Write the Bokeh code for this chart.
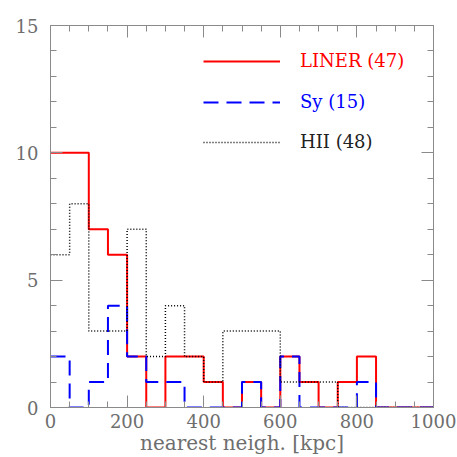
import math
from bokeh.plotting import figure
from bokeh.models import (Range1d, LinearAxis, FixedTicker, Label, Legend, LegendItem,
                          CustomLabelingPolicy)
from bokeh.embed import file_html
from bokeh.resources import INLINE

# ---- data ----
bin_edges = [0, 50, 100, 150, 200, 250, 300, 350, 400, 450, 500,
             550, 600, 650, 700, 750, 800, 850, 900, 950, 1000]
liner_counts = [10, 10, 7, 6, 2, 0, 2, 2, 1, 0, 1, 0, 2, 1, 0, 1, 2, 0, 0, 0]
sy_counts = [2, 0, 1, 4, 2, 1, 1, 0, 0, 0, 1, 0, 2, 0, 0, 0, 1, 0, 0, 0]
hii_counts = [6, 8, 3, 3, 7, 2, 4, 2, 1, 3, 3, 3, 1, 1, 1, 0, 0, 0, 0, 0]
series_labels = ["LINER (47)", "Sy (15)", "HII (48)"]
x_ticks = [0, 200, 400, 600, 800, 1000]
y_ticks = [0, 5, 10, 15]
x_title = "nearest neigh. [kpc]"
y_title = "N"

FONT = "DejaVu Serif"
GRAY = "#6e6e6e"
AXIS = "#8a8a8a"

p = figure(width=457, height=457, output_backend="svg", toolbar_location=None,
           x_range=Range1d(0, 1000), y_range=Range1d(0, 15),
           min_border_left=50, min_border_right=24, min_border_top=25,
           min_border_bottom=49)
p.grid.visible = False
p.outline_line_color = AXIS
p.background_fill_color = "white"

xt = FixedTicker(ticks=x_ticks, minor_ticks=bin_edges)
yt = FixedTicker(ticks=y_ticks, minor_ticks=list(range(0, 16)))

def style(ax, labels=True):
    ax.axis_line_color = AXIS
    ax.major_tick_line_color = AXIS
    ax.minor_tick_line_color = AXIS
    ax.major_tick_in = 12
    ax.major_tick_out = 0
    ax.minor_tick_in = 6
    ax.minor_tick_out = 0
    if labels:
        ax.major_label_text_font = FONT
        ax.major_label_text_font_size = "18px"
        ax.major_label_text_color = GRAY
    else:
        ax.major_label_text_font_size = "1px"
        ax.major_label_standoff = 0
        ax.major_label_policy = CustomLabelingPolicy(
            code="for (const i of Array.from(indices)) { indices.unset(i) }; return indices")

p.xaxis.ticker = xt
p.yaxis.ticker = yt
style(p.xaxis[0])
style(p.yaxis[0])
p.xaxis.major_label_standoff = 6
p.yaxis.major_label_standoff = 12
p.xaxis.axis_label = x_title
p.xaxis.axis_label_text_font = FONT
p.xaxis.axis_label_text_font_size = "20px"
p.xaxis.axis_label_text_font_style = "normal"
p.xaxis.axis_label_text_color = GRAY
p.xaxis.axis_label_standoff = 0

top = LinearAxis(ticker=FixedTicker(ticks=x_ticks, minor_ticks=bin_edges))
right = LinearAxis(ticker=FixedTicker(ticks=y_ticks, minor_ticks=list(range(0, 16))))
style(top, labels=False)
style(right, labels=False)
p.add_layout(top, "above")
p.add_layout(right, "right")

p.add_layout(Label(x=-108, y=7.5, text=y_title, angle=math.pi / 2,
                   text_align="center", text_baseline="middle",
                   text_font=FONT, text_font_size="18px", text_color=GRAY))

# ---- histograms ----
def step_xy(counts):
    return bin_edges, counts + [counts[-1]]

x, y = step_xy(liner_counts)
r1 = p.step(x, y, mode="after", line_color="#ff0000", line_width=2)
x, y = step_xy(sy_counts)
r2 = p.step(x, y, mode="after", line_color="#0000ff", line_width=2, line_dash="15 8")
x, y = step_xy(hii_counts)
r3 = p.step(x, y, mode="after", line_color="#000000", line_width=1.5, line_dash="1 2")

# ---- legend ----
for rend, lab, col, ypos in [(r1, series_labels[0], "#ff0000", 336),
                              (r2, series_labels[1], "#0000ff", 295),
                              (r3, series_labels[2], "#222222", 255)]:
    lg = Legend(items=[LegendItem(label=lab, renderers=[rend])],
                location=(153, ypos), glyph_width=77, glyph_height=20,
                label_standoff=20, padding=0, margin=0, spacing=0,
                border_line_alpha=0, background_fill_alpha=0,
                label_text_font=FONT, label_text_font_size="18px",
                label_text_color=col, label_height=20)
    p.add_layout(lg, "center")

open("out.html", "w").write(file_html(p, INLINE))
